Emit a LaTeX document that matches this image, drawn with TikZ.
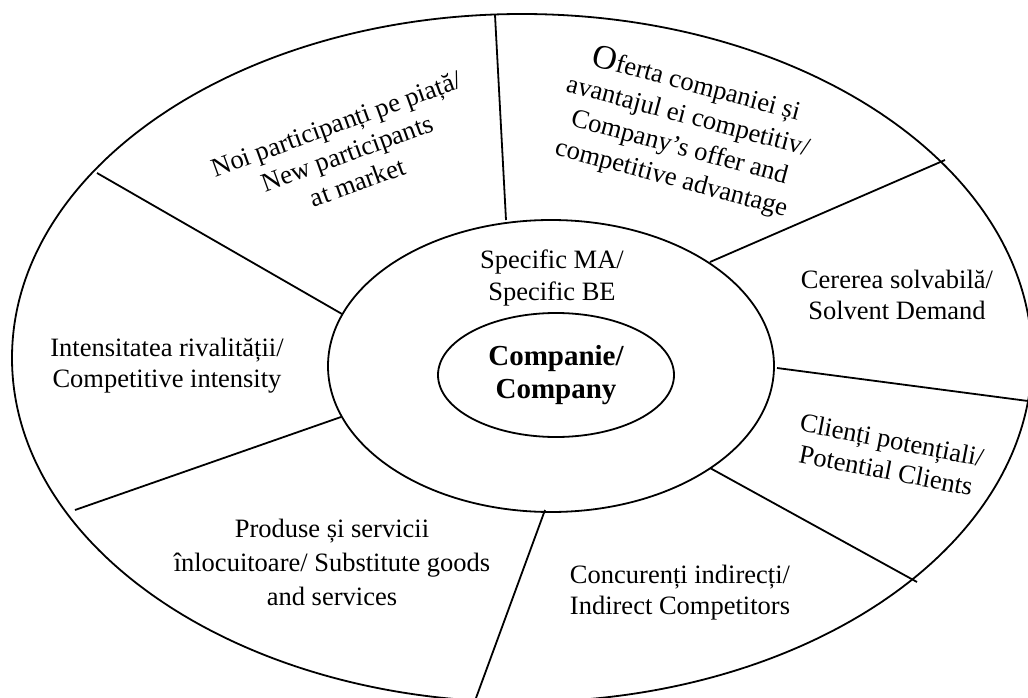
\documentclass[tikz,border=0pt]{standalone}
\usepackage{fontspec}
\setmainfont{Liberation Serif}
\usetikzlibrary{shapes.geometric}
\begin{document}
\begin{tikzpicture}[x=1pt,y=-1pt,
  ring/.style={draw, ellipse, line width=1.8pt, inner sep=0pt},
  spoke/.style={line width=1.8pt},
  lbl/.style={align=center, font=\fontsize{26.5}{31}\selectfont, inner sep=0pt},
]
\useasboundingbox (0,0) rectangle (1028,698);
% rings
\node[ring, minimum width=1020pt, minimum height=688pt] (outer) at (522,358) {};
\node[ring, minimum width=446pt, minimum height=292pt] (middle) at (551,366) {};
\node[ring, minimum width=236pt, minimum height=124pt, align=center,
      font=\bfseries\fontsize{29}{33}\selectfont] (core) at (556,375) {Companie/\\Company};
% spoke end points (outer / middle ellipse)
\coordinate (o1) at (495,15);   \coordinate (m1) at (506,220);
\coordinate (o2) at (945,160);  \coordinate (m2) at (710,262);
\coordinate (o3) at (1028,401); \coordinate (m3) at (777,368);
\coordinate (o4) at (917,582);  \coordinate (m4) at (710,468);
\coordinate (o5) at (476,698);  \coordinate (m5) at (545,510);
\coordinate (o6) at (75,510);   \coordinate (m6) at (341,417);
\coordinate (o7) at (97,173);   \coordinate (m7) at (342,314);
\foreach \i in {1,...,7} \draw[spoke] (m\i) -- (o\i);
% labels
\node[lbl, rotate=20] (newp) at (347,153) {Noi participanți pe piață/\\New participants\\at market};
\node[lbl, rotate=-15, font=\fontsize{26.5}{32}\selectfont] (offer) at (684,131)
  {{\fontsize{34}{32}\selectfont O}ferta companiei și\\avantajul ei competitiv/\\Company’s offer and\\competitive advantage};
\node[lbl] (dem) at (897,295) {Cererea solvabilă/\\Solvent Demand};
\node[lbl, rotate=-11] (cli) at (889,455) {Clienți potențiali/\\Potential Clients};
\node[lbl] (ind) at (680,593) {Concurenți indirecți/\\Indirect Competitors};
\node[lbl, font=\fontsize{26.5}{34}\selectfont] (subst) at (332,562) {Produse și servicii\\înlocuitoare/ Substitute goods\\and services};
\node[lbl] (riv) at (167,366) {Intensitatea rivalității/\\Competitive intensity};
\node[lbl, font=\fontsize{26.5}{32}\selectfont] (spec) at (552,278) {Specific MA/\\Specific BE};
\end{tikzpicture}
\end{document}
